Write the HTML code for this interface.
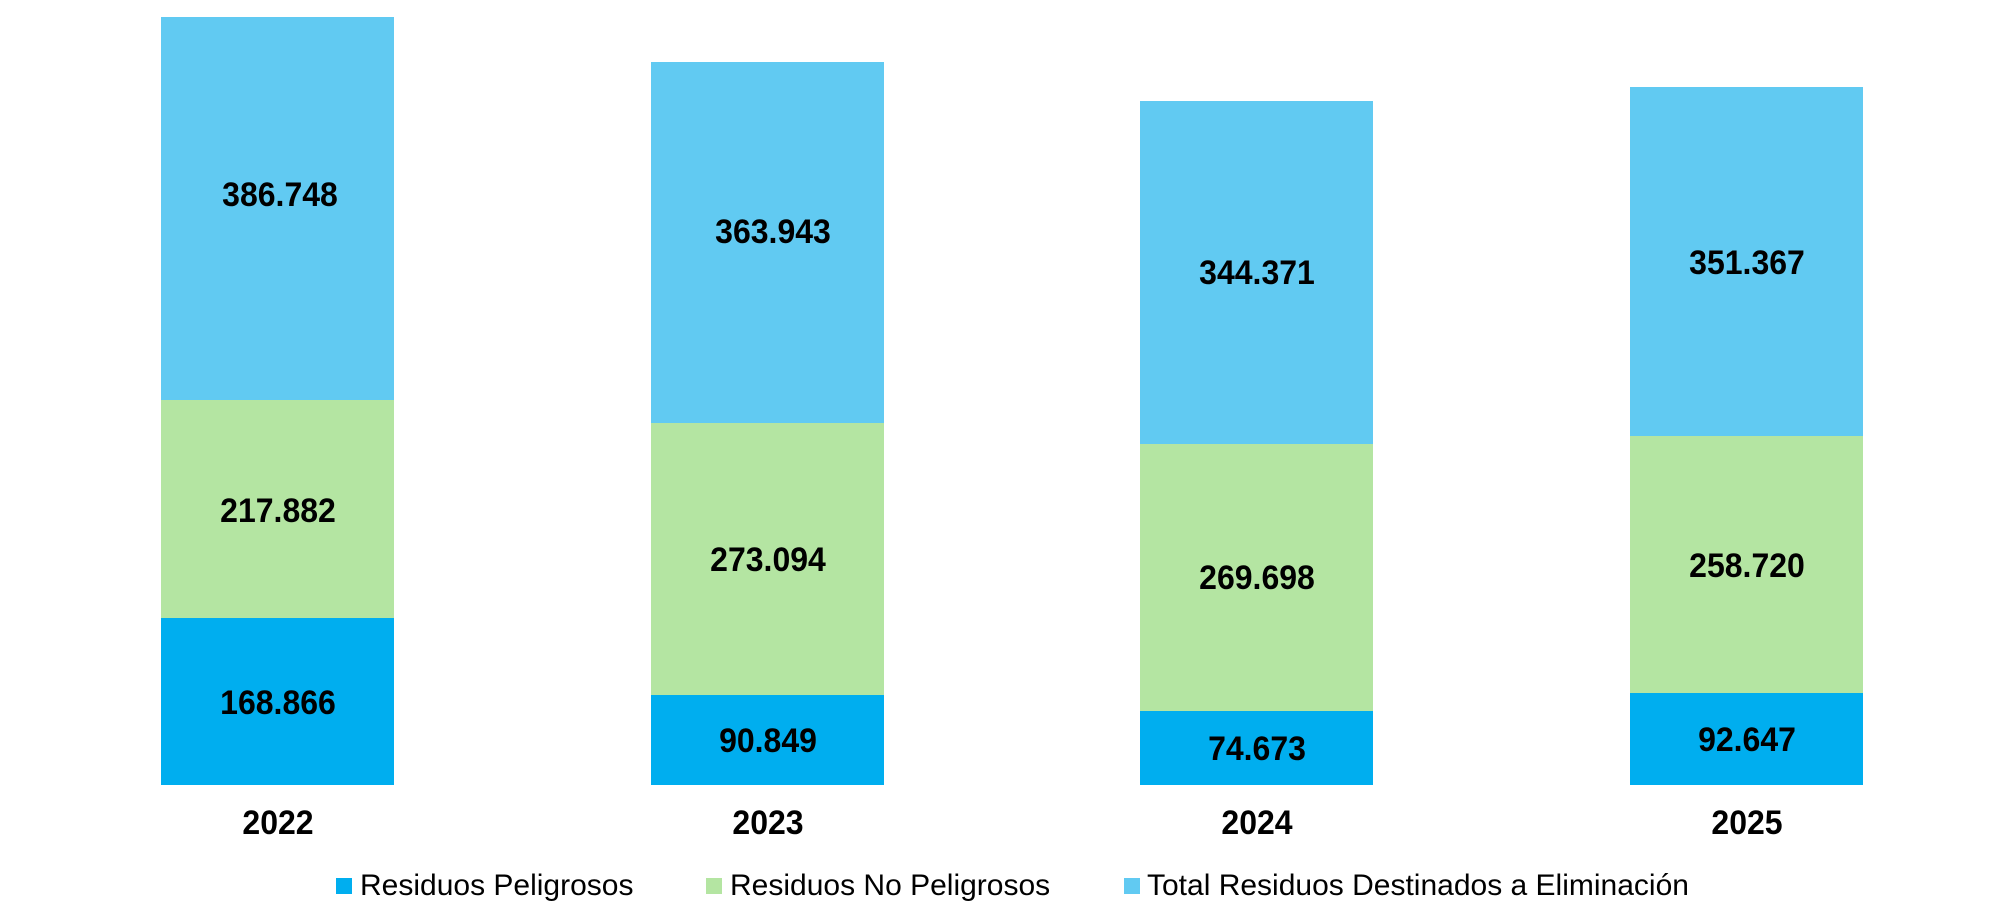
<!DOCTYPE html>
<html><head><style>
body{margin:0;width:2008px;height:908px;background:#fff;position:relative;overflow:hidden;font-family:"Liberation Sans",Arial,sans-serif}
.r{position:absolute}
.v{position:absolute;font-weight:bold;font-size:32px;color:#000;text-align:center;transform:translate(-50%,-50%) scaleY(1.06);white-space:nowrap}
.lg{position:absolute;font-size:30px;color:#000;top:886px;transform:translateY(-50%);white-space:nowrap}
.sq{position:absolute;width:16px;height:16px;top:878px}
</style></head><body>
<div class="r" style="left:161px;width:233px;top:17px;height:383px;background:#61CAF2"></div>
<div class="r" style="left:161px;width:233px;top:400px;height:218px;background:#B4E5A2"></div>
<div class="r" style="left:161px;width:233px;top:618px;height:167px;background:#00AEEF"></div>
<div class="r" style="left:651px;width:233px;top:62px;height:361px;background:#61CAF2"></div>
<div class="r" style="left:651px;width:233px;top:423px;height:272px;background:#B4E5A2"></div>
<div class="r" style="left:651px;width:233px;top:695px;height:90px;background:#00AEEF"></div>
<div class="r" style="left:1140px;width:233px;top:101px;height:343px;background:#61CAF2"></div>
<div class="r" style="left:1140px;width:233px;top:444px;height:267px;background:#B4E5A2"></div>
<div class="r" style="left:1140px;width:233px;top:711px;height:74px;background:#00AEEF"></div>
<div class="r" style="left:1630px;width:233px;top:87px;height:349px;background:#61CAF2"></div>
<div class="r" style="left:1630px;width:233px;top:436px;height:257px;background:#B4E5A2"></div>
<div class="r" style="left:1630px;width:233px;top:693px;height:92px;background:#00AEEF"></div>

<div class="v" style="left:280px;top:195px">386.748</div>
<div class="v" style="left:278px;top:511px">217.882</div>
<div class="v" style="left:278px;top:703px">168.866</div>
<div class="v" style="left:773px;top:232px">363.943</div>
<div class="v" style="left:768px;top:560px">273.094</div>
<div class="v" style="left:768px;top:741px">90.849</div>
<div class="v" style="left:1257px;top:273px">344.371</div>
<div class="v" style="left:1257px;top:578px">269.698</div>
<div class="v" style="left:1257px;top:749px">74.673</div>
<div class="v" style="left:1747px;top:263px">351.367</div>
<div class="v" style="left:1747px;top:566px">258.720</div>
<div class="v" style="left:1747px;top:740px">92.647</div>

<div class="v" style="left:278px;top:823px">2022</div>
<div class="v" style="left:768px;top:823px">2023</div>
<div class="v" style="left:1257px;top:823px">2024</div>
<div class="v" style="left:1747px;top:823px">2025</div>

<div class="sq" style="left:336px;background:#00AEEF"></div>
<div class="lg" style="left:360px">Residuos Peligrosos</div>
<div class="sq" style="left:706px;background:#B4E5A2"></div>
<div class="lg" style="left:730px">Residuos No Peligrosos</div>
<div class="sq" style="left:1124px;background:#61CAF2"></div>
<div class="lg" style="left:1147px">Total Residuos Destinados a Eliminación</div>
</body></html>
